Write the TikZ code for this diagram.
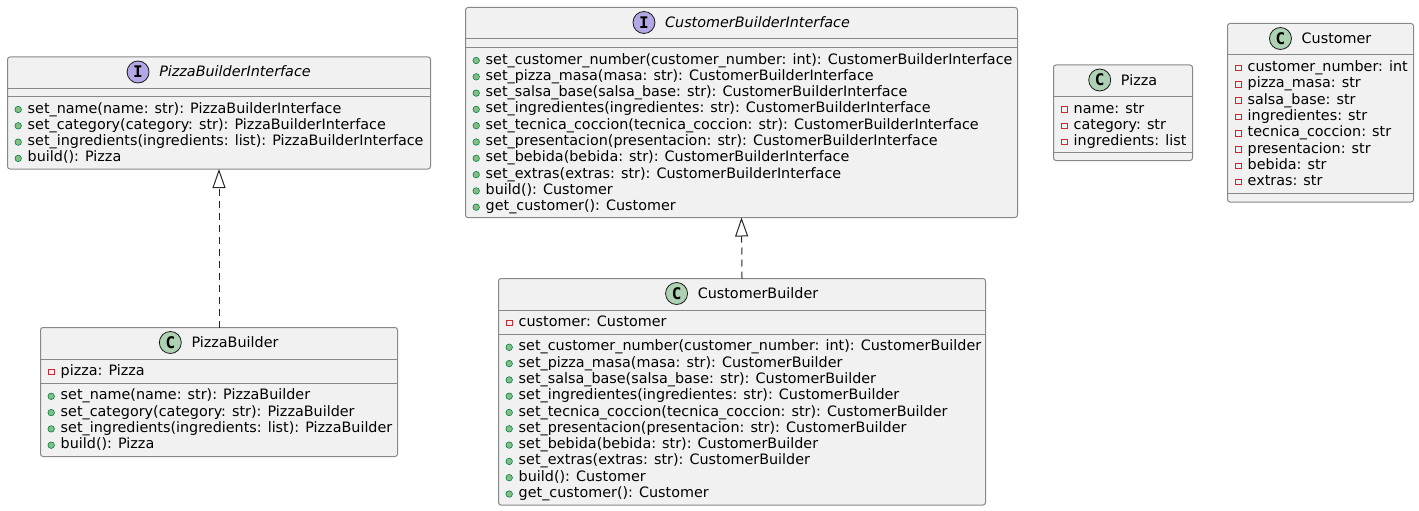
\documentclass[tikz,border=0pt]{standalone}
\usepackage{fontspec}
\setmainfont{DejaVu Sans}
\newfontfamily\iconfont{DejaVu Sans Mono}
\usetikzlibrary{arrows.meta,calc}
\definecolor{boxfill}{HTML}{F1F1F1}
\definecolor{boxline}{HTML}{888888}
\definecolor{ifill}{HTML}{B4A7E5}
\definecolor{cfill}{HTML}{ADD1B2}
\definecolor{privred}{HTML}{C82930}
\definecolor{pubfill}{HTML}{84BE84}
\definecolor{publine}{HTML}{038048}
\tikzset{
  umlbox/.style={draw=boxline, fill=boxfill, line width=1pt, rounded corners=2.5pt, inner sep=0pt, outer sep=0pt},
  sepline/.style={draw=boxline, line width=1pt},
  rowtext/.style={anchor=base west, inner sep=0pt, font=\fontsize{14.35}{16}\selectfont},
  titletext/.style={anchor=base, inner sep=0pt, font=\fontsize{14.35}{16}\selectfont},
  privicon/.style={rectangle, draw=privred, line width=0.8pt, minimum size=5.5pt, inner sep=0pt},
  pubicon/.style={circle, draw=publine, fill=pubfill, line width=0.6pt, minimum size=6.5pt, inner sep=0pt},
  kindI/.style={circle, draw=black!90, fill=ifill, line width=0.8pt, minimum size=22pt, inner sep=0pt, font=\iconfont\bfseries\fontsize{16}{16}\selectfont},
  kindC/.style={circle, draw=black!90, fill=cfill, line width=0.8pt, minimum size=22pt, inner sep=0pt, font=\iconfont\bfseries\fontsize{16}{16}\selectfont},
  realize/.style={draw=black!85, line width=1pt, dash pattern=on 7pt off 5pt, -{Triangle[open, length=19pt, width=13pt, fill=white]}}
}
% #1 name, #2 L, #3 T, #4 R, #5 B, #6 kind style, #7 letter, #8 title
\newcommand\umlhead[8]{%
  \node[umlbox, anchor=north west, minimum width=#4-#2, minimum height=#5-#3] (#1) at (#2,#3) {};
  \node[titletext] (#1-title) at ({(#2+#4)/2+16}, #3+20) {#8};
  \node[#6] (#1-kind) at ($(#1-title.base west)+(-21,-5)$) {#7};
  \draw[sepline] (#2,#3+31.5) -- (#4,#3+31.5);
}
% #1 prefix, #2 L, #3 section top, #4 icon style, #5 list
\newcommand\umlrows[5]{%
  \foreach[count=\i] \t in {#5}{
    \node[rowtext] (#1-\i) at (#2+20, #3+0.2+16.3*\i) {\t};
    \node[#4] (#1-v\i) at (#2+10.7, #3-3.3+16.3*\i) {};
  }
}
\begin{document}
\begin{tikzpicture}[x=1pt, y=-1pt]
\useasboundingbox (0,0) rectangle (1419,511);

% PizzaBuilderInterface
\umlhead{pbi}{7.5}{57}{430.5}{169}{kindI}{I}{\textit{PizzaBuilderInterface}}
\draw[sepline] (7.5,96.5) -- (430.5,96.5);
\umlrows{pbim}{7.5}{96.5}{pubicon}{set\_name(name: str): PizzaBuilderInterface,
  set\_category(category: str): PizzaBuilderInterface,
  set\_ingredients(ingredients: list): PizzaBuilderInterface,
  build(): Pizza}

% PizzaBuilder
\umlhead{pb}{40.5}{327.5}{397.5}{456.5}{kindC}{C}{PizzaBuilder}
\umlrows{pba}{40.5}{359}{privicon}{pizza: Pizza}
\draw[sepline] (40.5,383.3) -- (397.5,383.3);
\umlrows{pbm}{40.5}{383.3}{pubicon}{set\_name(name: str): PizzaBuilder,
  set\_category(category: str): PizzaBuilder,
  set\_ingredients(ingredients: list): PizzaBuilder,
  build(): Pizza}

% CustomerBuilderInterface
\umlhead{cbi}{465.5}{7.5}{1017.5}{217.5}{kindI}{I}{\textit{CustomerBuilderInterface}}
\draw[sepline] (465.5,47.5) -- (1017.5,47.5);
\umlrows{cbim}{465.5}{47.5}{pubicon}{set\_customer\_number(customer\_number: int): CustomerBuilderInterface,
  set\_pizza\_masa(masa: str): CustomerBuilderInterface,
  set\_salsa\_base(salsa\_base: str): CustomerBuilderInterface,
  set\_ingredientes(ingredientes: str): CustomerBuilderInterface,
  set\_tecnica\_coccion(tecnica\_coccion: str): CustomerBuilderInterface,
  set\_presentacion(presentacion: str): CustomerBuilderInterface,
  set\_bebida(bebida: str): CustomerBuilderInterface,
  set\_extras(extras: str): CustomerBuilderInterface,
  build(): Customer,
  get\_customer(): Customer}

% CustomerBuilder
\umlhead{cb}{498.5}{278.5}{985.5}{505}{kindC}{C}{CustomerBuilder}
\umlrows{cba}{498.5}{310}{privicon}{customer: Customer}
\draw[sepline] (498.5,334.3) -- (985.5,334.3);
\umlrows{cbm}{498.5}{334.3}{pubicon}{set\_customer\_number(customer\_number: int): CustomerBuilder,
  set\_pizza\_masa(masa: str): CustomerBuilder,
  set\_salsa\_base(salsa\_base: str): CustomerBuilder,
  set\_ingredientes(ingredientes: str): CustomerBuilder,
  set\_tecnica\_coccion(tecnica\_coccion: str): CustomerBuilder,
  set\_presentacion(presentacion: str): CustomerBuilder,
  set\_bebida(bebida: str): CustomerBuilder,
  set\_extras(extras: str): CustomerBuilder,
  build(): Customer,
  get\_customer(): Customer}

% Pizza
\umlhead{pz}{1053.5}{65}{1192.5}{160.5}{kindC}{C}{Pizza}
\umlrows{pza}{1053.5}{96.5}{privicon}{name: str, category: str, ingredients: list}
\draw[sepline] (1053.5,152.4) -- (1192.5,152.4);

% Customer
\umlhead{cu}{1227.5}{23.5}{1413.5}{202}{kindC}{C}{Customer}
\umlrows{cua}{1227.5}{55}{privicon}{customer\_number: int, pizza\_masa: str, salsa\_base: str,
  ingredientes: str, tecnica\_coccion: str, presentacion: str, bebida: str, extras: str}
\draw[sepline] (1227.5,193.3) -- (1413.5,193.3);

% realizations
\draw[realize] (pb.north) -- (pbi.south);
\draw[realize] (cb.north) -- (cbi.south);
\end{tikzpicture}
\end{document}
